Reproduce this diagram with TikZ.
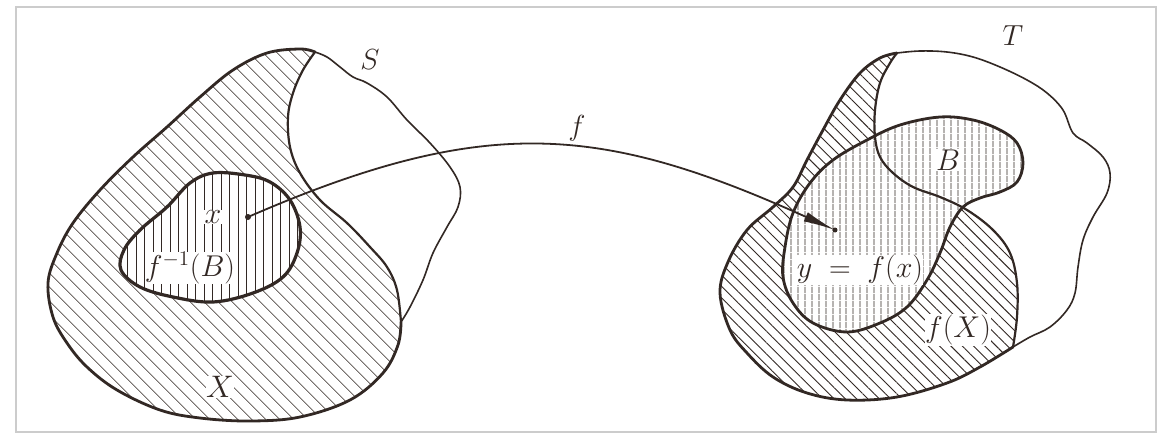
\documentclass[tikz,border=0pt]{standalone}
\usetikzlibrary{patterns.meta,arrows.meta}
\definecolor{inkc}{RGB}{50,40,36}
\newcommand{\MyLabelMath}[2]{\scalebox{#1}{\huge$#2$}}
\begin{document}
\begin{tikzpicture}[x=1pt,y=-1pt,
  diagL/.style={pattern={Lines[angle=-45,distance=10.5pt,line width=0.9pt]},pattern color=inkc},
  vertL/.style={pattern={Lines[angle=90,distance=8.5pt,line width=0.8pt]},pattern color=inkc},
  diagR/.style={pattern={Lines[angle=-45,distance=8pt,line width=0.9pt]},pattern color=inkc},
  vertR/.style={pattern={Lines[angle=90,distance=6.5pt,line width=0.8pt]},pattern color=inkc},
  bold/.style={draw=inkc,line width=2.8pt,line join=round,line cap=round},
  mid/.style={draw=inkc,line width=2.2pt,line join=round,line cap=round},
  fine/.style={draw=inkc,line width=1.6pt,line join=round,line cap=round},
  lab/.style={text=inkc, fill=white, inner sep=0.5pt},
  labs/.style={text=inkc, inner sep=1pt},
  dot/.style={circle,fill=inkc,inner sep=0pt,minimum size=6pt}]
\useasboundingbox[fill=white] (0,0) rectangle (1161,436);
\draw[gray!40,line width=1.2pt] (16,7) rectangle (1156,432);

% ---------- left: X inside S ----------
\path[diagL] plot[smooth,tension=0.6] coordinates {(315,52) (300,49) (267,53) (233,70) (200,97) (167,127) (133,157) (100,190) (73,223) (57,253) (48,283) (53,317) (67,343) (87,367) (117,390) (160,410) (200,418) (250,421) (300,417) (350,400) (383,373) (398,345) (401,322)}
  -- plot[smooth,tension=0.6] coordinates {(401,322) (397,290) (387,267) (370,247) (347,223) (320,200) (300,173) (290,147) (288,117) (293,93) (303,70) (315,52)} -- cycle;
\draw[bold] plot[smooth,tension=0.6] coordinates {(315,52) (300,49) (267,53) (233,70) (200,97) (167,127) (133,157) (100,190) (73,223) (57,253) (48,283) (53,317) (67,343) (87,367) (117,390) (160,410) (200,418) (250,421) (300,417) (350,400) (383,373) (398,345) (401,322)};
\draw[mid] plot[smooth,tension=0.6] coordinates {(401,322) (397,290) (387,267) (370,247) (347,223) (320,200) (300,173) (290,147) (288,117) (293,93) (303,70) (315,52)};
\draw[fine] plot[smooth,tension=0.6] coordinates {(315,52) (327,57) (340,67) (353,77) (367,83) (387,97) (407,120) (430,143) (450,167) (460,187) (458,207) (447,227) (433,253) (423,280) (410,307) (401,322)};
% f^{-1}(B)
\draw[bold,line width=3.2pt,preaction={fill=white},preaction={vertL}] plot[smooth cycle,tension=0.6] coordinates {(213,173) (245,175) (270,182) (290,200) (300,227) (297,253) (283,277) (253,293) (213,302) (173,297) (140,287) (121,270) (124,250) (140,230) (167,207) (190,183)};

% ---------- right: f(X), B inside T ----------
\path[diagR] plot[smooth,tension=0.6] coordinates {(897,53) (880,58) (860,73) (840,100) (823,130) (807,160) (793,187) (773,207) (747,230) (728,262) (720,293) (730,330) (747,353) (773,377) (807,393) (847,400) (897,397) (947,383) (980,367) (1013,347)}
  -- plot[smooth,tension=0.6] coordinates {(1013,347) (1017,317) (1017,283) (1010,253) (993,230) (967,210) (940,197) (913,187) (893,173) (880,157) (875,137) (875,110) (880,83) (890,63) (897,53)} -- cycle;
\draw[bold,preaction={fill=white},preaction={vertR}] plot[smooth cycle,tension=0.6] coordinates {(940,117) (973,120) (1000,130) (1017,143) (1023,163) (1017,182) (1000,192) (980,198) (963,207) (950,227) (940,253) (927,280) (907,307) (880,323) (847,332) (813,323) (793,303) (783,277) (785,247) (793,213) (810,183) (833,160) (867,140) (900,125)};
\draw[bold] plot[smooth,tension=0.6] coordinates {(897,53) (880,58) (860,73) (840,100) (823,130) (807,160) (793,187) (773,207) (747,230) (728,262) (720,293) (730,330) (747,353) (773,377) (807,393) (847,400) (897,397) (947,383) (980,367) (1013,347)};
\draw[mid] plot[smooth,tension=0.6] coordinates {(1013,347) (1017,317) (1017,283) (1010,253) (993,230) (967,210) (940,197) (913,187) (893,173) (880,157) (875,137) (875,110) (880,83) (890,63) (897,53)};
\draw[fine] plot[smooth,tension=0.6] coordinates {(897,53) (920,51) (947,52) (973,57) (1000,67) (1027,80) (1047,93) (1063,110) (1073,133) (1087,143) (1103,157) (1110,173) (1107,193) (1093,217) (1083,240) (1078,267) (1075,293) (1067,310) (1050,327) (1030,337) (1013,347)};

% ---------- labels ----------
\node[labs] (lS) at (370,60) {\MyLabelMath{1.4}{S}};
\node[labs] (lT) at (1013,36) {\MyLabelMath{1.4}{T}};
\node[lab] (lx) at (213,217) {\MyLabelMath{1.45}{x}};
\node[lab,inner sep=0pt] (lfinv) at (190,268) {\MyLabelMath{1.45}{f^{-1}(B)}};
\node[lab] (lX) at (220,387) {\MyLabelMath{1.5}{X}};
\node[lab] (lB) at (948,160) {\MyLabelMath{1.45}{B}};
\node[lab,inner sep=0pt] (ly) at (860,270) {\MyLabelMath{1.45}{y \;=\; f(x)}};
\node[lab] (lfX) at (958,330) {\MyLabelMath{1.45}{f(X)}};
\node[labs] (lf) at (577,128) {\MyLabelMath{1.4}{f}};

% ---------- mapping arrow ----------
\node[dot] (px) at (248,217) {};
\node[dot,minimum size=5pt] (py) at (835,230) {};
\draw[fine,line width=1.8pt,-{Latex[length=32pt,width=10pt]}]
  (px.center) .. controls (485,114) and (600,124) .. (py.center);
\end{tikzpicture}
\end{document}
